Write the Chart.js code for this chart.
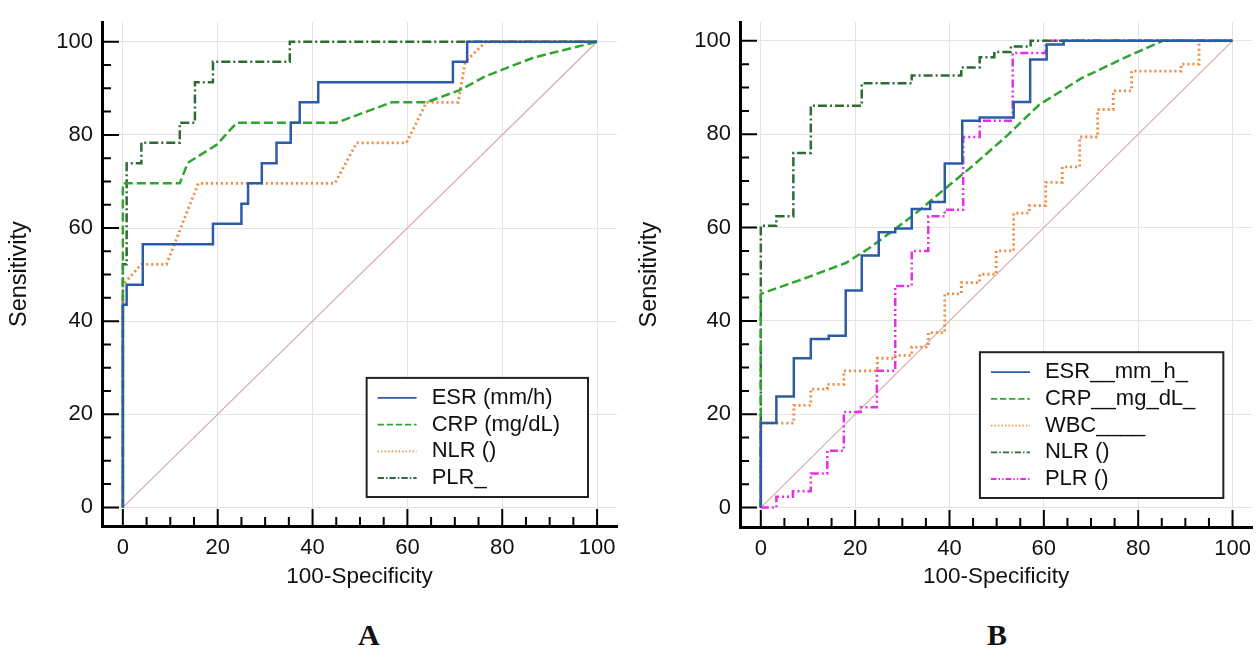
<!DOCTYPE html>
<html>
<head>
<meta charset="utf-8">
<script src="https://cdn.jsdelivr.net/npm/chart.js@4.4.1/dist/chart.umd.min.js"></script>
<style>
  body { margin: 0; background: #fff; }
  #wrap { position: relative; width: 1260px; height: 653px; overflow: hidden; }
  .box { position: absolute; top: 0; width: 630px; height: 600px; }
  .panel { position: absolute; top: 618px; font: bold 30px 'Liberation Serif', 'Times New Roman', serif; color: #111; }
</style>
</head>
<body>
<div id="wrap">
  <div class="box" style="left:0"><canvas id="chartA"></canvas></div>
  <div class="box" style="left:630px"><canvas id="chartB"></canvas></div>
  <div class="panel" style="left:358px">A</div>
  <div class="panel" style="left:987px">B</div>
</div>
<script>
// panel A
const aLabels = ['ESR (mm/h)', 'CRP (mg/dL)', 'NLR ()', 'PLR_']
const aEsrX = [0,0,0.8,0.8,4.2,4.2,19,19,25,25,26.4,26.4,29.3,29.3,32.4,32.4,35.4,35.4,37.3,37.3,41.2,41.2,69.6,69.6,72.6,72.6,100]
const aEsrY = [0,43.5,43.5,47.8,47.8,56.5,56.5,60.9,60.9,65.2,65.2,69.6,69.6,73.9,73.9,78.3,78.3,82.6,82.6,87,87,91.3,91.3,95.7,95.7,100,100]
const aCrpX = [0,0,12,13.7,19.8,24,45,56.7,64,71,76.7,86.6,100]
const aCrpY = [0,69.6,69.6,74,77.9,82.6,82.6,87,87,89.6,92.7,96.6,100]
const aNlrX = [0,0,3.9,9.2,15.9,44.7,49.3,59.8,64,70.7,72.2,76.5,100]
const aNlrY = [0,47.8,52.2,52.2,69.6,69.6,78.3,78.3,87,87,95.7,100,100]
const aPlrX = [0,0,0.8,0.8,3.9,3.9,12,12,15.2,15.2,19,19,35.2,35.2,100]
const aPlrY = [0,52.2,52.2,73.9,73.9,78.3,78.3,82.6,82.6,91.3,91.3,95.7,95.7,100,100]

// panel B
const bLabels = ['ESR__mm_h_', 'CRP__mg_dL_', 'WBC____', 'NLR ()', 'PLR ()']
const bEsrX = [0,0,3.3,3.3,7,7,10.6,10.6,14.4,14.4,18,18,21.4,21.4,25,25,28.5,28.5,32,32,35.9,35.9,39,39,42.7,42.7,46.4,46.4,53.6,53.6,57.1,57.1,60.6,60.6,64.2,64.2,100]
const bEsrY = [0,18.1,18.1,23.8,23.8,32,32,36.1,36.1,36.8,36.8,46.5,46.5,54,54,59,59,59.8,59.8,64,64,65.5,65.5,73.7,73.7,82.9,82.9,83.6,83.6,86.9,86.9,96,96,99.2,99.2,100,100]
const bCrpX = [0,0,9,18,23,28.5,34,39,45,52,59,68,78,85.2,100]
const bCrpY = [0,45.8,49,52.4,55.6,59.7,64,68.3,73.3,79.5,86.3,92,96.8,100,100]
const bWbcX = [0,0,7,7,10.6,10.6,14.1,14.1,17.6,17.6,24.7,24.7,28.5,28.5,32,32,35.5,35.5,39,39,42.5,42.5,46.4,46.4,49.9,49.9,53.6,53.6,56.9,56.9,60.4,60.4,63.9,63.9,67.6,67.6,71.4,71.4,74.7,74.7,78.6,78.6,89.1,89.1,92.9,92.9,100]
const bWbcY = [0,18.1,18.1,21.9,21.9,25.4,25.4,26.4,26.4,29.3,29.3,32,32,32.6,32.6,34.4,34.4,37.5,37.5,45.8,45.8,48.2,48.2,50,50,55,55,63.1,63.1,64.7,64.7,69.7,69.7,73,73,79.4,79.4,85.3,85.3,89.3,89.3,93.5,93.5,95,95,100,100]
const bNlrX = [0,0,3.3,3.3,6.9,6.9,10.6,10.6,21.4,21.4,32,32,42.5,42.5,46.4,46.4,49.5,49.5,53,53,57.2,57.2,100]
const bNlrY = [0,60.4,60.4,62.4,62.4,76,76,86.1,86.1,90.9,90.9,92.6,92.6,94.3,94.3,96.5,96.5,97.6,97.6,98.8,98.8,100,100]
const bPlrX = [0,3.3,3.3,6.8,6.8,10.6,10.6,14.1,14.1,17.6,17.6,21.2,21.2,24.6,24.6,28.5,28.5,32,32,35.5,35.5,39,39,42.9,42.9,46.4,46.4,53.4,53.4,60.4,60.4,100]
const bPlrY = [0,0,2.3,2.3,3.5,3.5,7.3,7.3,12.2,12.2,20.5,20.5,21.5,21.5,29.3,29.3,47.5,47.5,55,55,62.4,62.4,63.8,63.8,79.4,79.4,82.9,82.9,97.4,97.4,100,100]

// reference diagonal + axis ticks
const diagX = [0, 100]
const diagY = [0, 100]
const tickValues = [0, 20, 40, 60, 80, 100]
const minorStep = 5

const FONT = "'Liberation Sans', Arial, sans-serif"
Chart.defaults.font.family = FONT
Chart.defaults.color = '#111'

const pts = (xs, ys) => xs.map((x, i) => ({ x: x, y: ys[i] }))

function line(label, xs, ys, color, dash, width) {
    return {
        label: label,
        data: pts(xs, ys),
        borderColor: color,
        borderWidth: width || 2.5,
        borderDash: dash,
        pointRadius: 0,
        showLine: true,
        fill: false,
        tension: 0
    }
}

function diagonal() {
    return { label: '', data: pts(diagX, diagY), borderColor: '#d9aaaa', borderWidth: 1.2, pointRadius: 0, showLine: true }
}

// ticks drawn inward from the axis lines, minor every 5
const inwardTicks = {
    id: 'inwardTicks',
    afterDraw(chart) {
        const { ctx, chartArea, scales } = chart
        ctx.save()
        ctx.strokeStyle = '#000'
        ctx.lineWidth = 2
        for (let v = 0; v <= 100; v += minorStep) {
            const len = tickValues.includes(v) ? 17 : 9
            const px = scales.x.getPixelForValue(v)
            const py = scales.y.getPixelForValue(v)
            ctx.beginPath()
            ctx.moveTo(px, chartArea.bottom)
            ctx.lineTo(px, chartArea.bottom - len)
            ctx.moveTo(chartArea.left, py)
            ctx.lineTo(chartArea.left + len, py)
            ctx.stroke()
        }
        ctx.restore()
    }
}

// boxed legend in the lower right corner
const boxLegend = {
    id: 'boxLegend',
    afterDraw(chart) {
        const { ctx, chartArea } = chart
        const items = chart.data.datasets.filter(d => d.label)
        ctx.save()
        ctx.font = '22px ' + FONT
        const textW = Math.max(...items.map(d => ctx.measureText(d.label).width))
        const rowH = 26.7
        const w = 11 + 39 + 15 + textW + 28
        const h = 20 + rowH * (items.length - 1) + 19
        const left = chartArea.right - 29 - w
        const top = chartArea.bottom - 29 - h
        ctx.fillStyle = '#fff'
        ctx.fillRect(left, top, w, h)
        ctx.strokeStyle = '#222'
        ctx.lineWidth = 2
        ctx.strokeRect(left, top, w, h)
        items.forEach((d, i) => {
            const cy = top + 20 + i * rowH
            ctx.strokeStyle = d.borderColor
            ctx.lineWidth = 1.8
            ctx.setLineDash((d.borderDash || []).map(n => n * 0.7))
            ctx.beginPath()
            ctx.moveTo(left + 11, cy)
            ctx.lineTo(left + 50, cy)
            ctx.stroke()
            ctx.setLineDash([])
            ctx.fillStyle = '#111'
            ctx.textBaseline = 'middle'
            ctx.fillText(d.label, left + 65, cy)
        })
        ctx.restore()
    }
}

function axis(min, max, title, fit, titleSize, titlePad) {
    return {
        type: 'linear',
        min: min,
        max: max,
        afterBuildTicks: s => { s.ticks = tickValues.map(v => ({ value: v })) },
        afterFit: fit,
        ticks: { font: { size: 22 }, color: '#111', padding: 9 },
        grid: { color: '#e4e4e4', lineWidth: 1, drawTicks: false },
        border: { display: true, color: '#000', width: 3 },
        title: { display: true, text: title, font: { size: titleSize }, color: '#111', padding: titlePad }
    }
}

function makeChart(id, datasets, cfg) {
    return new Chart(document.getElementById(id), {
        type: 'scatter',
        data: { datasets: datasets },
        options: {
            responsive: true,
            maintainAspectRatio: false,
            animation: false,
            layout: { padding: { top: cfg.top, right: cfg.right, left: 0, bottom: 0 } },
            plugins: { legend: { display: false }, tooltip: { enabled: false } },
            scales: {
                x: axis(cfg.xMin, cfg.xMax, '100-Specificity', s => { s.height = cfg.xH }, 22.5, { top: 0, bottom: 10 }),
                y: axis(cfg.yMin, cfg.yMax, 'Sensitivity', s => { s.width = cfg.yW }, 23.5, { top: 5, bottom: 0 })
            }
        },
        plugins: [inwardTicks, boxLegend]
    })
}

const blue = '#2a5ca8'
const green = '#2ea52e'
const orange = '#f08a3c'
const darkGreen = '#2f6a35'
const magenta = '#e52ee5'

makeChart('chartA', [
    line(aLabels[0], aEsrX, aEsrY, blue, []),
    line(aLabels[1], aCrpX, aCrpY, green, [9, 4]),
    line(aLabels[2], aNlrX, aNlrY, orange, [2, 3], 2.8),
    line(aLabels[3], aPlrX, aPlrY, darkGreen, [9, 3, 2, 3]),
    diagonal()
], { top: 14, right: 13, xMin: -4.4, xMax: 104.2, yMin: -4.0, yMax: 104.2, xH: 74, yW: 102 })

makeChart('chartB', [
    line(bLabels[0], bEsrX, bEsrY, blue, []),
    line(bLabels[1], bCrpX, bCrpY, green, [9, 4]),
    line(bLabels[2], bWbcX, bWbcY, orange, [2, 3], 2.8),
    line(bLabels[3], bNlrX, bNlrY, darkGreen, [9, 3, 2, 3]),
    line(bLabels[4], bPlrX, bPlrY, magenta, [8, 3, 2, 3, 2, 3]),
    diagonal()
], { top: 7, right: 3, xMin: -4.41, xMax: 104.2, yMin: -4.16, yMax: 104, xH: 73, yW: 110 })
</script>
</body>
</html>
